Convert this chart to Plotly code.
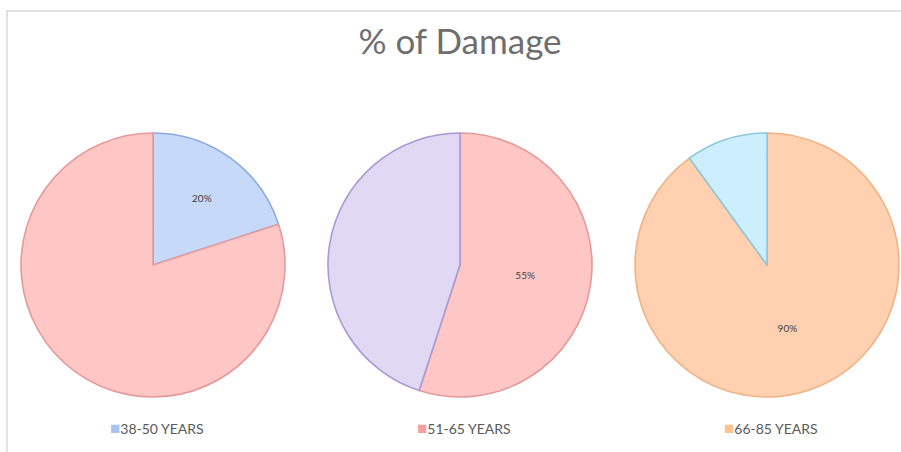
import plotly.graph_objects as go

title_text = "% of Damage"
groups = ["38-50 YEARS", "51-65 YEARS", "66-85 YEARS"]
pie1_labels = ["38-50 YEARS", "Other"]
pie1_values = [20, 80]
pie1_text = ["20%", ""]
pie2_labels = ["51-65 YEARS", "Other"]
pie2_values = [55, 45]
pie2_text = ["55%", ""]
pie3_labels = ["66-85 YEARS", "Other"]
pie3_values = [90, 10]
pie3_text = ["90%", ""]

fills = [["#c6d9f8", "#ffc6c6"], ["#ffc6c6", "#e1d9f3"], ["#ffd1b0", "#cdeefc"]]
lines = [["#8eaae0", "#e49a9a"], ["#e49a9a", "#a99ad6"], ["#f0b285", "#8cc6dc"]]
legend_sq = ["#a9c3ef", "#f2a2a2", "#fbc293"]

W, H = 901, 452
cx = [153, 460, 767]
cy = 265
R = 132

fig = go.Figure()
data = [(pie1_labels, pie1_values, pie1_text), (pie2_labels, pie2_values, pie2_text),
        (pie3_labels, pie3_values, pie3_text)]
for i, (lab, val, txt) in enumerate(data):
    fig.add_trace(go.Pie(
        labels=lab, values=val, text=txt, textinfo="text",
        textposition="inside", insidetextorientation="horizontal",
        textfont=dict(size=10, color="#404040", family="Lato"),
        sort=False, direction="clockwise", rotation=0,
        marker=dict(colors=fills[i], line=dict(color=lines[i], width=1.6)),
        domain=dict(x=[(cx[i] - R) / W, (cx[i] + R) / W],
                    y=[(H - cy - R) / H, (H - cy + R) / H]),
        showlegend=False, hoverinfo="label+percent",
    ))
    fig.add_annotation(
        x=(cx[i] + 4) / W, y=(H - 427) / H, xref="paper", yref="paper",
        text=f'<span style="color:{legend_sq[i]};font-size:17px">■</span>{groups[i]}',
        showarrow=False, font=dict(size=14, color="#595959", family="Lato"),
        xanchor="center", yanchor="middle",
    )

fig.add_shape(type="line", xref="paper", yref="paper", x0=7 / W, x1=7 / W, y0=0, y1=(H - 11) / H,
              line=dict(color="#c4c4c4", width=1))
fig.add_shape(type="line", xref="paper", yref="paper", x0=7 / W, x1=1, y0=(H - 11) / H, y1=(H - 11) / H,
              line=dict(color="#c4c4c4", width=1))

fig.update_layout(
    width=W, height=H,
    margin=dict(l=0, r=0, t=0, b=0),
    paper_bgcolor="white", plot_bgcolor="white",
    title=dict(text=title_text, x=460 / W, xanchor="center", y=1 - 42 / H, yanchor="middle",
               font=dict(size=35, color="#6e6e6e", family="Lato")),
)

fig.write_html("out.html")
